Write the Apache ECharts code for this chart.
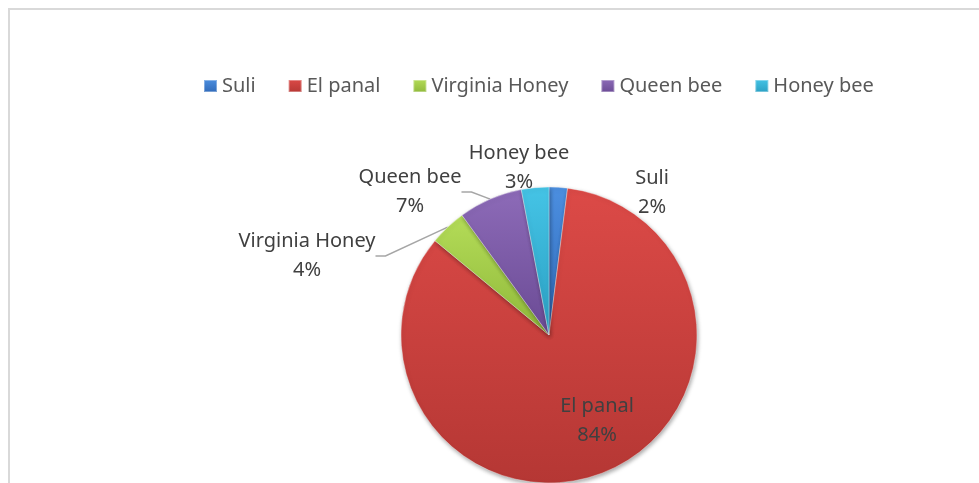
<!DOCTYPE html>
<html>
<head>
<meta charset="utf-8">
<script src="https://cdn.jsdelivr.net/npm/echarts@6/dist/echarts.min.js"></script>
<style>
  html, body { margin: 0; padding: 0; background: #fff; }
  #chart { width: 979px; height: 483px; }
</style>
</head>
<body>
<div id="chart"></div>
<script>
const brands = ["Suli", "El panal", "Virginia Honey", "Queen bee", "Honey bee"];
const shares = [2, 84, 4, 7, 3];

// light / dark pair for each slice, to fake the bevel shading
const colors = [
  ["#4c8fe0", "#2f69b8"],
  ["#dc4a47", "#b53734"],
  ["#b4dc58", "#8fb83a"],
  ["#8d6bb8", "#6a4a94"],
  ["#45c4e6", "#2a9fc2"]
];

// where each label sits (centre of the two-line block)
const labelSpots = [
  [652, 193],
  [597, 421],
  [307, 256],
  [410, 192],
  [519, 168]
];

const chart = echarts.init(document.getElementById("chart"));

const pieData = brands.map((name, i) => ({
  name: name,
  value: shares[i],
  itemStyle: {
    color: {
      type: "linear", x: 0, y: 0, x2: 0, y2: 1,
      colorStops: [
        { offset: 0, color: colors[i][0] },
        { offset: 1, color: colors[i][1] }
      ]
    }
  },
  label: { position: i === 1 ? "inside" : "outside" },
  labelLine: { show: i === 2 || i === 3 }
}));

chart.setOption({
  animation: false,
  graphic: [{
    type: "rect",
    shape: { x: 9, y: 9, width: 1000, height: 500 },
    style: { fill: "none", stroke: "#d9d9d9", lineWidth: 2 }
  }],
  legend: {
    left: 203,
    top: 76,
    padding: 0,
    icon: "rect",
    itemWidth: 13,
    itemHeight: 12,
    itemGap: 32,
    textStyle: { fontFamily: "Noto Sans", fontSize: 20, color: "#595959" },
    data: brands
  },
  series: [{
    type: "pie",
    center: [549, 335],
    radius: 148,
    startAngle: 90,
    clockwise: true,
    percentPrecision: 0,
    avoidLabelOverlap: false,
    itemStyle: {
      borderColor: "rgba(255,255,255,0.35)",
      borderWidth: 1,
      shadowBlur: 4,
      shadowOffsetX: 1,
      shadowOffsetY: 2,
      shadowColor: "rgba(0,0,0,0.35)"
    },
    label: {
      formatter: "{b}\n{d}%",
      fontFamily: "Noto Sans",
      fontSize: 20,
      lineHeight: 29,
      color: "#404040",
      align: "center"
    },
    labelLine: {
      length: 10,
      length2: 10,
      lineStyle: { color: "#a6a6a6", width: 1.5 }
    },
    labelLayout: function (p) {
      const s = labelSpots[p.dataIndex];
      return { x: s[0], y: s[1], align: "center", verticalAlign: "middle" };
    },
    emphasis: { disabled: true },
    data: pieData
  }]
});
</script>
</body>
</html>
